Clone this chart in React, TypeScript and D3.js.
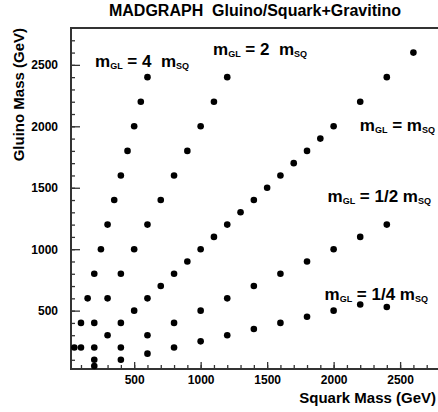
import React, { useEffect, useRef } from 'react';
import * as d3 from 'd3';

// squark masses (GeV) and gluino masses (GeV) for each mass ratio
const squark4 = [50, 100, 150, 200, 250, 300, 350, 400, 450, 500, 550, 600];
const gluino4 = [200, 400, 600, 800, 1000, 1200, 1400, 1600, 1800, 2000, 2200, 2400];

const squark2 = [100, 200, 300, 400, 500, 600, 700, 800, 900, 1000, 1100, 1200];
const gluino2 = [200, 400, 600, 800, 1000, 1200, 1400, 1600, 1800, 2000, 2200, 2400];

const squark1 = [200, 300, 400, 500, 600, 700, 800, 900, 1000, 1100, 1200, 1300, 1400, 1500, 1600, 1700, 1800, 1900, 2000, 2200, 2400, 2600];
const gluino1 = [200, 300, 400, 500, 600, 700, 800, 900, 1000, 1100, 1200, 1300, 1400, 1500, 1600, 1700, 1800, 1900, 2000, 2200, 2400, 2600];

const squarkHalf = [200, 400, 600, 800, 1000, 1200, 1400, 1600, 1800, 2000, 2200, 2400];
const gluinoHalf = [100, 200, 300, 400, 500, 600, 700, 800, 900, 1000, 1100, 1200];

const squarkQuarter = [200, 400, 600, 800, 1000, 1200, 1400, 1600, 1800, 2000, 2200, 2400];
const gluinoQuarter = [50, 100, 150, 200, 250, 300, 350, 400, 450, 500, 550, 530];

const majorTicks = [500, 1000, 1500, 2000, 2500];
const minorTicks = d3.range(100, 2800, 100);

// ratio labels: text between the two masses, anchor x, baseline y
const seriesLabels = [
  { mid: ' = 4  ', x: 95, y: 67, anchor: 'start' },
  { mid: ' = 2  ', x: 213, y: 55, anchor: 'start' },
  { mid: ' = ', x: 435, y: 131, anchor: 'end' },
  { mid: ' = 1/2 ', x: 431, y: 202, anchor: 'end' },
  { mid: ' = 1/4 ', x: 428, y: 300, anchor: 'end' },
];

const W = 438;
const H = 412;
const FONT = 'Liberation Sans, Arial, sans-serif';

export default function App() {
  const svgRef = useRef<SVGSVGElement>(null);

  useEffect(() => {
    if (!svgRef.current) return;
    const svg = d3.select(svgRef.current);
    svg.selectAll('*').remove();

    const left = 71, right = 440, top = 28, bottom = 369;
    const x = d3.scaleLinear().domain([25, 2800]).range([left, right]);
    const y = d3.scaleLinear().domain([25, 2800]).range([bottom, top]);

    const axisColor = '#333';

    // minor ticks (inside)
    const xMinor = svg.append('g').attr('transform', `translate(0,${bottom})`)
      .call(d3.axisBottom(x).tickValues(minorTicks).tickSize(-4).tickFormat(() => ''));
    const yMinor = svg.append('g').attr('transform', `translate(${left},0)`)
      .call(d3.axisLeft(y).tickValues(minorTicks).tickSize(-4).tickFormat(() => ''));

    // major ticks with labels
    const xMajor = svg.append('g').attr('transform', `translate(0,${bottom})`)
      .call(d3.axisBottom(x).tickValues(majorTicks).tickSize(-7).tickPadding(6).tickFormat(d3.format('d')));
    const yMajor = svg.append('g').attr('transform', `translate(${left},0)`)
      .call(d3.axisLeft(y).tickValues(majorTicks).tickSize(-9).tickPadding(13).tickFormat(d3.format('d')));

    [xMinor, yMinor, xMajor, yMajor].forEach(g => {
      g.select('.domain').remove();
      g.selectAll('line').attr('stroke', axisColor).attr('stroke-width', 1.3);
      g.selectAll('text')
        .attr('fill', '#000')
        .attr('font-family', FONT)
        .attr('font-weight', 'bold')
        .attr('font-size', 12);
    });

    // frame lines
    svg.append('path')
      .attr('d', `M${right},${top}H${left}V${bottom}H${right}`)
      .attr('fill', 'none')
      .attr('stroke', axisColor)
      .attr('stroke-width', 2);

    // data points
    const series = [
      [squark4, gluino4],
      [squark2, gluino2],
      [squark1, gluino1],
      [squarkHalf, gluinoHalf],
      [squarkQuarter, gluinoQuarter],
    ];
    series.forEach(([sx, sy]) => {
      svg.append('g').selectAll('circle')
        .data(sx.map((v, i) => [v, sy[i]]))
        .enter()
        .append('circle')
        .attr('cx', d => x(d[0]))
        .attr('cy', d => y(d[1]))
        .attr('r', 3.3)
        .attr('fill', '#000');
    });

    // series labels
    seriesLabels.forEach(l => {
      const t = svg.append('text')
        .attr('x', l.x)
        .attr('y', l.y)
        .attr('text-anchor', l.anchor)
        .attr('font-family', FONT)
        .attr('font-weight', 'bold')
        .attr('font-size', 17)
        .attr('fill', '#000')
        .style('white-space', 'pre');
      t.append('tspan').text('m');
      t.append('tspan').attr('font-size', 9).attr('dy', 2).text('GL');
      t.append('tspan').attr('dy', -2).text(l.mid + 'm');
      t.append('tspan').attr('font-size', 9).attr('dy', 2).text('SQ');
    });

    // title
    svg.append('text')
      .attr('x', 255)
      .attr('y', 16)
      .attr('text-anchor', 'middle')
      .attr('font-family', FONT)
      .attr('font-weight', 'bold')
      .attr('font-size', 16)
      .attr('fill', '#000')
      .style('white-space', 'pre')
      .text('MADGRAPH  Gluino/Squark+Gravitino');

    // axis titles
    svg.append('text')
      .attr('x', 436)
      .attr('y', 403)
      .attr('text-anchor', 'end')
      .attr('font-family', FONT)
      .attr('font-weight', 'bold')
      .attr('font-size', 15)
      .attr('fill', '#000')
      .text('Squark Mass (GeV)');

    svg.append('text')
      .attr('transform', `translate(24,28) rotate(-90)`)
      .attr('text-anchor', 'end')
      .attr('font-family', FONT)
      .attr('font-weight', 'bold')
      .attr('font-size', 15)
      .attr('fill', '#000')
      .text('Gluino Mass (GeV)');
  }, []);

  return (
    <div style={{ position: 'absolute', left: 0, top: 0, background: '#fff' }}>
      <svg ref={svgRef} width={W} height={H} style={{ display: 'block' }} />
    </div>
  );
}
